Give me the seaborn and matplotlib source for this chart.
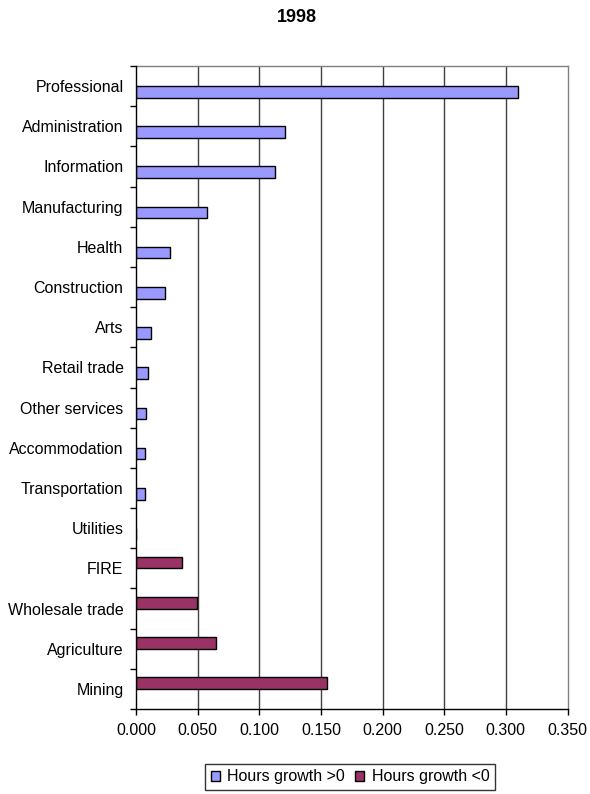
import matplotlib
matplotlib.use("Agg")
import matplotlib.pyplot as plt
from matplotlib.patches import Patch
import seaborn as sns
import pandas as pd
import numpy as np

title = "1998"
categories = ["Professional", "Administration", "Information", "Manufacturing", "Health",
              "Construction", "Arts", "Retail trade", "Other services", "Accommodation",
              "Transportation", "Utilities", "FIRE", "Wholesale trade", "Agriculture", "Mining"]
pos_label = "Hours growth >0"
neg_label = "Hours growth <0"
pos_industries = ["Professional", "Administration", "Information", "Manufacturing", "Health",
                  "Construction", "Arts", "Retail trade", "Other services", "Accommodation",
                  "Transportation", "Utilities"]
pos_values = [0.3095, 0.121, 0.113, 0.0576, 0.0276, 0.0238, 0.0119, 0.0097, 0.0084, 0.0073, 0.0073, 0.0]
neg_industries = ["FIRE", "Wholesale trade", "Agriculture", "Mining"]
neg_values = [0.0373, 0.0493, 0.065, 0.1548]
x_ticks = [0.0, 0.05, 0.10, 0.15, 0.20, 0.25, 0.30, 0.35]

pos_color = "#9999FF"
neg_color = "#993366"

df = pd.DataFrame({
    "industry": pos_industries + neg_industries,
    "value": pos_values + neg_values,
    "series": [pos_label] * len(pos_values) + [neg_label] * len(neg_values),
})

sns.set_theme(style="white")
plt.rcParams["font.family"] = ["Liberation Sans", "DejaVu Sans"]
plt.rcParams["text.color"] = "black"

FS = 11.5

fig = plt.figure(figsize=(5.9, 7.94), dpi=100)
ax = fig.add_axes([136 / 590, 1 - 709 / 794, (567.5 - 136) / 590, (709 - 66) / 794])

sns.barplot(data=df, y="industry", x="value", hue="series", order=categories,
            hue_order=[neg_label, pos_label], palette={pos_label: pos_color, neg_label: neg_color},
            width=0.58, dodge=True, saturation=1, edgecolor="black", linewidth=1.0, errorbar=None,
            legend=False, orient="h", ax=ax, zorder=3)

ax.set_xlim(0, 0.35)
ax.set_ylim(len(categories) - 0.5, -0.5)
ax.set_xticks(x_ticks)
ax.set_xticklabels([f"{v:.3f}" for v in x_ticks], fontsize=FS, color="black")
ax.set_xlabel("")
ax.set_ylabel("")

# category labels at centers (minor), ticks between categories (major)
ax.set_yticks(np.arange(-0.5, len(categories), 1.0))
ax.set_yticklabels([])
ax.set_yticks(np.arange(len(categories)), minor=True)
ax.set_yticklabels(categories, minor=True, fontsize=FS, color="black")
ax.tick_params(axis="y", which="major", left=True, length=4, width=1, color="black", direction="out")
ax.tick_params(axis="y", which="minor", left=False, length=0, pad=9)
ax.tick_params(axis="x", which="major", bottom=True, length=4, width=1, color="black", direction="out", pad=6)

ax.grid(False)
for xv in x_ticks[1:-1]:
    ax.axvline(xv, color="#404040", linewidth=1.0, zorder=1)

for side in ["top", "right"]:
    ax.spines[side].set_visible(True)
    ax.spines[side].set_color("#808080")
    ax.spines[side].set_linewidth(1.0)
for side in ["left", "bottom"]:
    ax.spines[side].set_color("black")
    ax.spines[side].set_linewidth(1.0)
    ax.spines[side].set_zorder(4)

fig.text(297 / 590, 1 - 18 / 794, title, ha="center", va="center", fontsize=13,
         fontweight="bold", color="black")

handles = [Patch(facecolor=pos_color, edgecolor="black", linewidth=1.0, label=pos_label),
           Patch(facecolor=neg_color, edgecolor="black", linewidth=1.0, label=neg_label)]
leg = fig.legend(handles=handles, loc="center", bbox_to_anchor=(350 / 590, 1 - 777 / 794), ncol=2,
                 fontsize=FS, frameon=True, fancybox=False, shadow=False,
                 handlelength=0.6, handleheight=0.6, handletextpad=0.45, columnspacing=0.6,
                 borderpad=0.35, borderaxespad=0, edgecolor="black")
leg.get_frame().set_linewidth(1.0)
for t in leg.get_texts():
    t.set_color("black")

fig.savefig("out.png", dpi=100, facecolor="white")
